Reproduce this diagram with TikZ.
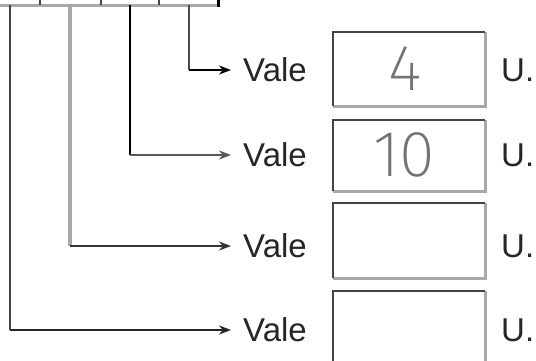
\documentclass[tikz,border=0pt]{standalone}
\usepackage{fontspec}
\setmainfont{Liberation Sans}
\IfFontExistsTF{Fira Sans ExtraLight}
  {\newfontfamily\digitfont{Fira Sans ExtraLight}}
  {\newfontfamily\digitfont{Latin Modern Mono Light}}
\usetikzlibrary{arrows.meta}
\definecolor{dk}{HTML}{444444}
\definecolor{lt}{HTML}{A8A8A8}
\tikzset{
  lbl/.style={anchor=west, inner xsep=12pt, inner ysep=0pt, font=\fontsize{33}{33}\selectfont, text=black!85},
  unit/.style={anchor=west, inner sep=0pt, font=\fontsize{33}{33}\selectfont, text=black!85},
  box/.style={minimum width=152pt, inner sep=0pt, anchor=north west},
  dig/.style={inner sep=0pt, font=\digitfont\fontsize{65}{65}\selectfont, text=black!55},
  arr/.style={line width=2.5pt, -{Stealth[length=12pt,width=9pt]}},
  edgedk/.style={draw=dk, line width=2.5pt},
  edgelt/.style={draw=lt, line width=2.5pt}
}
\begin{document}
\begin{tikzpicture}[x=1pt,y=-1pt]
\clip (0,0) rectangle (536,360);
\fill[white] (0,0) rectangle (536,360);
% top bar
\coordinate (barL) at (0,5);
\coordinate (barR) at (218,5);
\draw[lt, line width=3pt] (barL) -- (barR);
\foreach \x in {40,101,159}{\draw[dk, line width=1.5pt] (\x,0) -- (\x,5);}
\draw[black, line width=3pt] (218,0) -- (218,7);
% taps on the bar
\coordinate (t1) at (189,5);
\coordinate (t2) at (130,5);
\coordinate (t3) at (70,5);
\coordinate (t4) at (10,5);
% labels
\node[lbl] (v1) at (231,70) {Vale};
\node[lbl] (v2) at (231,155) {Vale};
\node[lbl] (v3) at (231,246) {Vale};
\node[lbl] (v4) at (231,330) {Vale};
\node[unit] (u1) at (501,70) {U.};
\node[unit] (u2) at (501,155) {U.};
\node[unit] (u3) at (501,246) {U.};
\node[unit] (u4) at (501,330) {U.};
% boxes
\node[box, minimum height=74pt] (b1) at (333,32) {};
\node[box, minimum height=71pt] (b2) at (333,120) {};
\node[box, minimum height=75pt] (b3) at (333,203) {};
\node[box, minimum height=75pt] (b4) at (333,291) {};
\foreach \b in {b1,b2,b3,b4}{
  \draw[edgelt] (\b.north east) |- (\b.south west);
  \draw[edgedk] (\b.south west) |- (\b.north east);
}
\node[dig] (d1) at (405,69) {4};
\node[dig] (d2) at (404,155) {10};
% connectors
\coordinate (c1) at (t1 |- v1.west);
\coordinate (c2) at (t2 |- v2.west);
\coordinate (c3) at (t3 |- v3.west);
\coordinate (c4) at (t4 |- v4.west);
\draw[black!70, line width=2.5pt] (t1) -- (c1);
\draw[black, line width=2.5pt] (t2) -- (c2);
\draw[lt, line width=3.5pt] (t3) -- (c3);
\draw[dk, line width=2.5pt] (t4) -- (c4);
\draw[arr, black] (c1) -- (v1.west);
\draw[arr, black!65] (c2) -- (v2.west);
\draw[arr, black!80] (c3) -- (v3.west);
\draw[arr, black!85] (c4) -- (v4.west);
\end{tikzpicture}
\end{document}
